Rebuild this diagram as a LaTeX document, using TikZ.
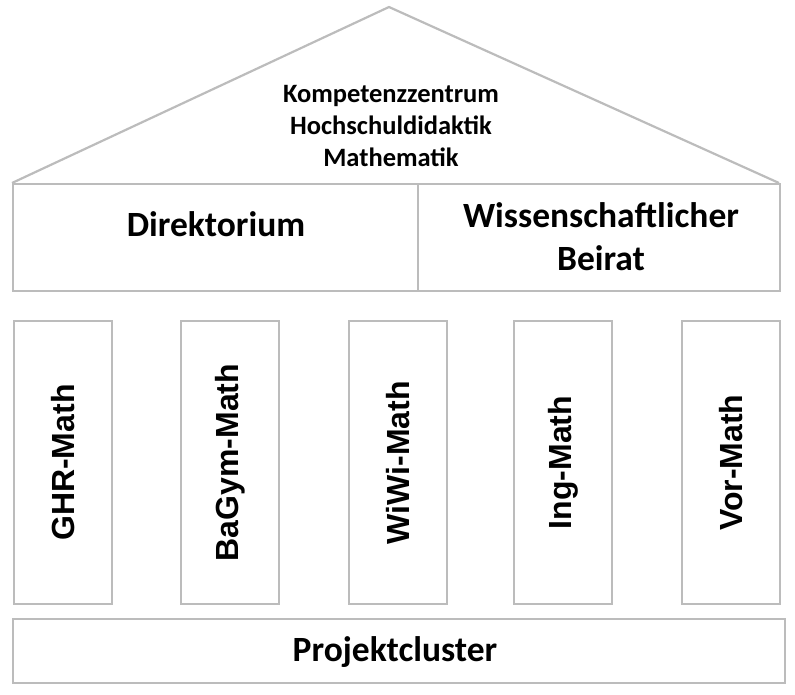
\documentclass[tikz,border=0pt]{standalone}
\usepackage{fontspec}
\setmainfont{Carlito}
\newfontfamily\pillarfont{Liberation Sans}
\definecolor{linegray}{RGB}{188,188,188}
\begin{document}
\begin{tikzpicture}[x=1pt,y=-1pt,
  frame/.style={draw=linegray, line width=2.2pt},
  boxnode/.style={frame, rectangle, inner sep=0pt, anchor=north west},
  rooftext/.style={font=\bfseries\fontsize{26.5}{32}\selectfont, align=center, inner sep=0pt},
  bigtext/.style={font=\bfseries\fontsize{35.5}{43}\selectfont, align=center, inner sep=0pt},
  pillartext/.style={font=\pillarfont\bfseries\fontsize{32}{38}\selectfont, rotate=90, inner sep=0pt}
]
\useasboundingbox (0,0) rectangle (795,695);
% roof
\coordinate (roofL) at (12,183);
\coordinate (apex) at (389,7);
\coordinate (roofR) at (779,183);
\draw[frame, line join=miter] (roofL) -- (apex) -- (roofR);
\node[rooftext] (roof) at (391,126.5) {Kompetenzzentrum\\Hochschuldidaktik\\Mathematik};
% band
\node[boxnode, minimum width=405pt, minimum height=107pt] (dirbox) at (12,183) {};
\node[boxnode, minimum width=362pt, minimum height=107pt] (beibox) at (417,183) {};
\node[bigtext] (dir) at (216,224) {Direktorium};
\node[bigtext] (bei) at (601,236.5) {Wissenschaftlicher\\Beirat};
% pillars
\foreach \n/\x/\t in {p1/13/GHR-Math, p2/180/BaGym-Math, p3/348/WiWi-Math, p4/513/Ing-Math, p5/681/Vor-Math}{
  \node[boxnode, minimum width=98pt, minimum height=283pt] (\n) at (\x,320) {};
  \node[pillartext] (\n t) at (\n.center) {\t};
}
% base
\node[boxnode, minimum width=772pt, minimum height=64pt] (base) at (12,618) {};
\node[bigtext] (baset) at (395,652) {Projektcluster};
\end{tikzpicture}
\end{document}
